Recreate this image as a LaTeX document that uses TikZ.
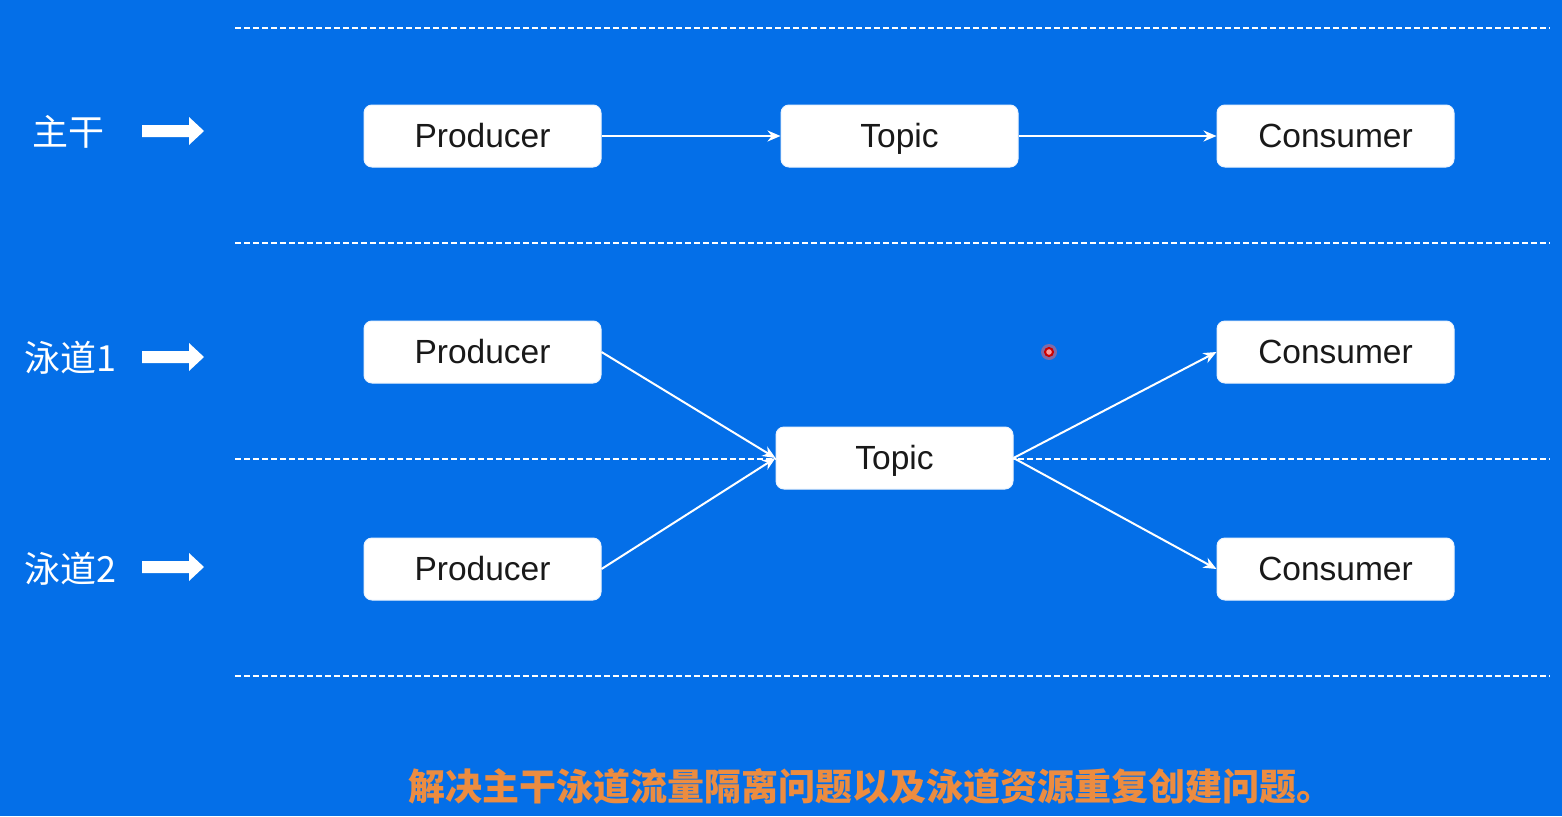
\documentclass[tikz,border=0pt]{standalone}
\usepackage{fontspec}
\setmainfont{Liberation Sans}
\newfontfamily\cjk{Noto Sans CJK SC}
\usetikzlibrary{arrows.meta}
\definecolor{bg}{RGB}{4,111,232}
\definecolor{boxtext}{RGB}{25,25,25}
\definecolor{note}{RGB}{236,140,64}
\begin{document}
\begin{tikzpicture}[x=1pt,y=-1pt,
  box/.style={draw=white!92!bg,line width=1pt,fill=white,rounded corners=8pt,minimum width=237pt,minimum height=62pt,inner sep=0pt,text=boxtext,font=\fontsize{33.5}{36}\selectfont,text height=26.5pt,text depth=4.5pt},
  lane/.style={white,line width=1.6pt,dash pattern=on 6pt off 3pt},
  conn/.style={white,line width=2pt,-{Stealth[length=13pt,width=11pt]}},
  lbl/.style={text=white,font=\cjk\fontsize{36}{40}\selectfont,inner sep=0pt,anchor=west},
  fat/.style={fill=white,draw=none}
]
\fill[bg] (0,0) rectangle (1562,816);
\useasboundingbox (0,0) rectangle (1562,816);
% lane separators
\foreach \yy/\nm in {28/la,243/lb,459/lc,676/ld}{
  \coordinate (\nm s) at (235,\yy);
  \coordinate (\nm e) at (1550,\yy);
  \draw[lane] (\nm s) -- (\nm e);
}
% boxes
\node[box] (p1) at (482.5,136) {Producer};
\node[box] (t1) at (899.5,136) {Topic};
\node[box] (c1) at (1335.5,136) {Consumer};
\node[box] (p2) at (482.5,352) {Producer};
\node[box] (c2) at (1335.5,352) {Consumer};
\node[box] (t2) at (894.5,458) {Topic};
\node[box] (p3) at (482.5,569) {Producer};
\node[box] (c3) at (1335.5,569) {Consumer};
% connectors
\draw[conn] (p1.east) -- (t1.west);
\draw[conn] (t1.east) -- (c1.west);
\draw[conn] (p2.east) -- (t2.west);
\draw[conn] (p3.east) -- (t2.west);
\draw[conn] (t2.east) -- (c2.west);
\draw[conn] (t2.east) -- (c3.west);
% left labels
\node[lbl] (l1) at (32,132) {主干};
\node[lbl] (l2) at (24,358) {泳道1};
\node[lbl] (l3) at (24,569) {泳道2};
% fat arrows
\foreach \yy in {131,357,567}{
  \fill[white] (142,\yy-6) -- (189,\yy-6) -- (189,\yy-14) -- (204,\yy) -- (189,\yy+14) -- (189,\yy+6) -- (142,\yy+6) -- cycle;
}
% laser pointer dot
\fill[red!60!white,opacity=0.5] (1049,352) circle (8);
\draw[red!80!black,line width=2pt,fill=red!40!white] (1049,352) circle (4);
% bottom note
\node[text=note,font=\cjk\bfseries\fontsize{37}{40}\selectfont,inner sep=0pt] (note) at (871,786) {解决主干泳道流量隔离问题以及泳道资源重复创建问题。};
\end{tikzpicture}
\end{document}
